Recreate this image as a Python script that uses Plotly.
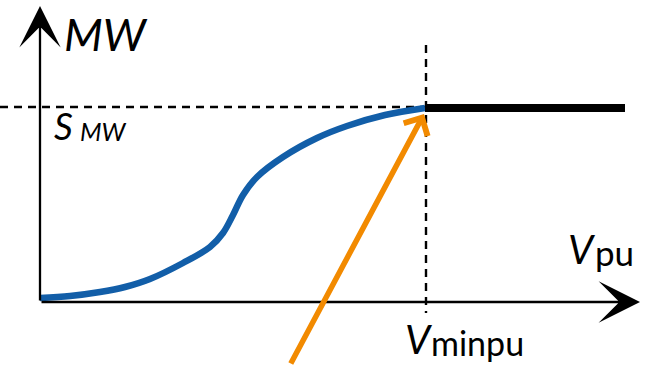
import plotly.graph_objects as go

# Chart units: origin at the axes' crossing, x = voltage (schematic), y = MW (schematic)
curve_v = [0, 30, 60, 85, 110, 143, 170, 183, 193, 203, 217, 243, 277, 307, 345, 385]
curve_mw = [4, 6, 10, 15, 23, 39, 55, 69, 87, 107, 125, 145, 164, 176, 187, 194]

v_min = 385          # V_minpu
s_mw = 195           # S_MW level
flat_v = [385, 585]  # constant segment beyond V_minpu
flat_mw = [194, 194]

x_axis_end = 600
y_axis_end = 296
x_left = -40
y_bottom = -63
dash_v_top = 257
dash_v_bottom = -11

orange_tail = (250, -63)
orange_tip = (384, 188)

FONT = "Lato"

fig = go.Figure()

# dashed guide lines
fig.add_trace(go.Scatter(x=[x_left, v_min], y=[s_mw, s_mw], mode="lines",
                         line=dict(color="black", width=2.4, dash="8px,6px"), hoverinfo="skip"))
fig.add_trace(go.Scatter(x=[v_min + 1, v_min + 1], y=[dash_v_top, dash_v_bottom], mode="lines",
                         line=dict(color="black", width=2.4, dash="8px,6px"), hoverinfo="skip"))

# curve
fig.add_trace(go.Scatter(x=curve_v, y=curve_mw, mode="lines",
                         line=dict(color="#125ea8", width=6.5, shape="spline", smoothing=1.0),
                         hoverinfo="skip"))
# flat black segment
fig.add_trace(go.Scatter(x=flat_v, y=flat_mw, mode="lines",
                         line=dict(color="black", width=8), hoverinfo="skip"))

annotations = [
    # y axis arrow
    dict(x=0, y=y_axis_end, ax=0, ay=0, xref="x", yref="y", axref="x", ayref="y",
         text="", showarrow=True, arrowhead=3, arrowsize=3.0, arrowwidth=2.3, arrowcolor="black", standoff=0),
    # x axis arrow
    dict(x=x_axis_end, y=0, ax=0, ay=0, xref="x", yref="y", axref="x", ayref="y",
         text="", showarrow=True, arrowhead=3, arrowsize=3.0, arrowwidth=2.3, arrowcolor="black", standoff=0),
    # orange arrow
    dict(x=orange_tip[0], y=orange_tip[1], ax=orange_tail[0], ay=orange_tail[1],
         xref="x", yref="y", axref="x", ayref="y",
         text="", showarrow=True, arrowhead=4, arrowsize=0.95, arrowwidth=5.5, arrowcolor="#f28a00", standoff=0),
    # labels
    dict(x=22, y=268, xref="x", yref="y", text="<i>MW</i>", showarrow=False,
         xanchor="left", yanchor="middle", font=dict(family=FONT, size=45, color="black")),
    dict(x=12, y=177, xref="x", yref="y", text="<i>S</i>", showarrow=False,
         xanchor="left", yanchor="middle", font=dict(family=FONT, size=37, color="black")),
    dict(x=38, y=171, xref="x", yref="y", text="<i>MW</i>", showarrow=False,
         xanchor="left", yanchor="middle", font=dict(family=FONT, size=25, color="black")),
    dict(x=526, y=53, xref="x", yref="y", text="<i>V</i>", showarrow=False,
         xanchor="left", yanchor="middle", font=dict(family=FONT, size=40, color="black")),
    dict(x=553, y=50, xref="x", yref="y", text="pu", showarrow=False,
         xanchor="left", yanchor="middle", font=dict(family=FONT, size=35, color="black")),
    dict(x=363, y=-37, xref="x", yref="y", text="<i>V</i>", showarrow=False,
         xanchor="left", yanchor="middle", font=dict(family=FONT, size=40, color="black")),
    dict(x=389, y=-40, xref="x", yref="y", text="minpu", showarrow=False,
         xanchor="left", yanchor="middle", font=dict(family=FONT, size=34, color="black")),
]

fig.update_layout(
    width=646, height=365,
    margin=dict(l=0, r=0, t=0, b=0),
    paper_bgcolor="white", plot_bgcolor="white",
    showlegend=False,
    xaxis=dict(range=[x_left, x_left + 646], visible=False, fixedrange=True),
    yaxis=dict(range=[y_bottom, y_bottom + 365], visible=False, fixedrange=True),
    annotations=annotations,
)

fig.write_html("out.html", config={"displayModeBar": False},
               post_script="document.body.style.margin='0';document.body.style.overflow='hidden';")
